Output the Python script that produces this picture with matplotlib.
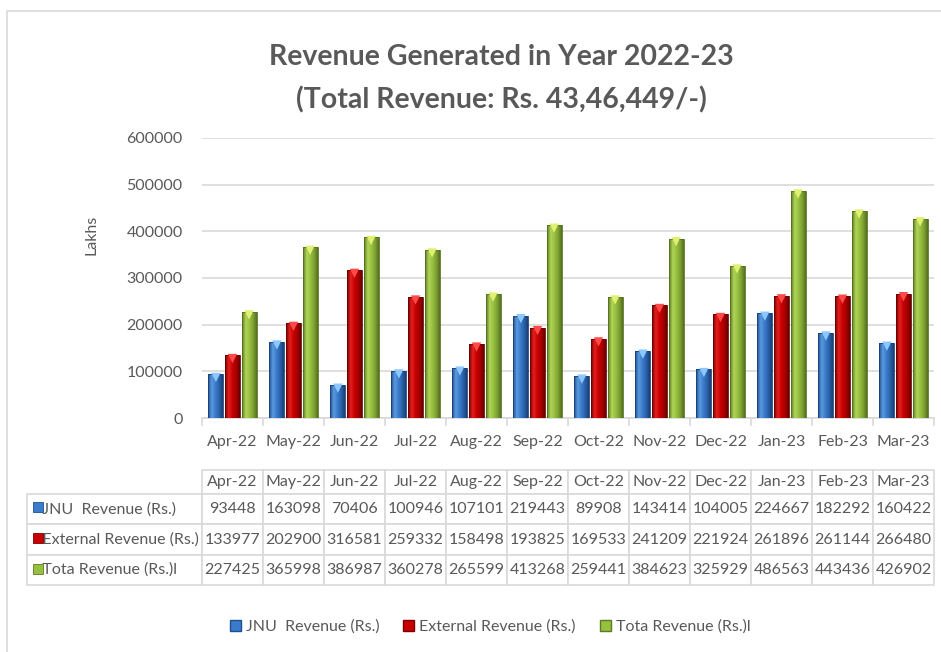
import matplotlib
matplotlib.use("Agg")
import matplotlib.pyplot as plt
import numpy as np
from matplotlib.colors import LinearSegmentedColormap
from matplotlib.patches import Rectangle, Patch

months = ["Apr-22", "May-22", "Jun-22", "Jul-22", "Aug-22", "Sep-22",
          "Oct-22", "Nov-22", "Dec-22", "Jan-23", "Feb-23", "Mar-23"]
jnu_revenue = [93448, 163098, 70406, 100946, 107101, 219443,
               89908, 143414, 104005, 224667, 182292, 160422]
external_revenue = [133977, 202900, 316581, 259332, 158498, 193825,
                    169533, 241209, 221924, 261896, 261144, 266480]
total_revenue = [227425, 365998, 386987, 360278, 265599, 413268,
                 259441, 384623, 325929, 486563, 443436, 426902]
series_names = ["JNU  Revenue (Rs.)", "External Revenue (Rs.)", "Tota Revenue (Rs.)l"]
y_ticks = [0, 100000, 200000, 300000, 400000, 500000, 600000]

# shading across each bar: dark edge, highlight, body, dark edge
shades = [
    ["#1f4f8f", "#5b9be0", "#3b7bcb", "#2a62aa", "#1a3f75"],
    ["#7a0000", "#e32020", "#c80000", "#a80000", "#6a0000"],
    ["#5c7a22", "#b0d458", "#98c040", "#7fa234", "#55701e"],
]
tips = ["#8cc8ff", "#ff4a4a", "#e0f070"]
legend_cols = ["#3b7bcb", "#c80000", "#98c040"]

text_gray = "#595959"
grid_gray = "#d9d9d9"
plt.rcParams['font.family'] = ['Lato', 'DejaVu Sans']

fig = plt.figure(figsize=(9.41, 6.52), dpi=100)
ax = fig.add_axes([202/941, 1-418/652, 732/941, 280/652])

# outer chart frame
fig.patches.append(Rectangle((7/941, -0.2), 1.3, 1.2 - 11/652, transform=fig.transFigure,
                             fill=False, edgecolor=grid_gray, linewidth=1.2))

x = np.arange(len(months))
bar_w = 0.245
step = 0.272
for i, vals in enumerate([jnu_revenue, external_revenue, total_revenue]):
    cmap = LinearSegmentedColormap.from_list("s%d" % i, shades[i])
    grad = np.linspace(0, 1, 64).reshape(1, -1)
    xs = x + (i - 1) * step
    bars = ax.bar(xs, vals, width=bar_w, color=legend_cols[i], edgecolor="none", zorder=2)
    for b in bars:
        im = ax.imshow(grad, cmap=cmap, aspect="auto", zorder=3,
                       extent=[b.get_x(), b.get_x() + b.get_width(), 0, b.get_height()])
        im.set_clip_path(b)
    # thin dark outline on top of the shading
    ax.bar(xs, vals, width=bar_w, fill=False, edgecolor=shades[i][4], linewidth=0.6, zorder=3.5)
    ax.scatter(xs, np.array(vals) - 6500, marker="v", s=45, color=tips[i],
               edgecolor="none", zorder=4)

ax.set_xlim(-0.5, 11.5)
ax.set_ylim(0, 600000)
ax.set_yticks(y_ticks)
ax.set_yticklabels([str(v) for v in y_ticks])
ax.grid(axis="y", color=grid_gray, linewidth=1.2, zorder=0)
ax.set_axisbelow(True)
for s in ["top", "right", "left"]:
    ax.spines[s].set_visible(False)
ax.spines["bottom"].set_color(grid_gray)
ax.spines["bottom"].set_linewidth(1.2)
ax.tick_params(axis="y", length=0, pad=14, labelsize=11.5, labelcolor=text_gray)
ax.set_xticks(x)
ax.set_xticklabels(months)
ax.tick_params(axis="x", which="major", length=0, pad=12, labelsize=11.5, labelcolor=text_gray)
ax.set_xticks(np.arange(-0.5, 12, 1), minor=True)
ax.tick_params(axis="x", which="minor", length=6, color=grid_gray, width=1.2)
ax.set_ylabel("Lakhs", fontsize=11.5, color=text_gray)
ax.yaxis.set_label_coords(-0.142, 0.654)

fig.text(501/941, 1-57/652, "Revenue Generated in Year 2022-23", ha="center", va="center",
         fontsize=20.5, fontweight="bold", color=text_gray)
fig.text(501/941, 1-100/652, "(Total Revenue: Rs. 43,46,449/-)", ha="center", va="center",
         fontsize=20.5, fontweight="bold", color=text_gray)

# data table under the chart
rows = []
for name, vals in zip(series_names, [jnu_revenue, external_revenue, total_revenue]):
    rows.append(["   " + name] + [str(v) for v in vals])
cell_text = [[""] + months] + rows
col_w = [175] + [61] * 12
tbl = ax.table(cellText=cell_text, colWidths=[w / sum(col_w) for w in col_w],
               bbox=[-175/732, (418-585)/280, 907/732, 115/280], cellLoc="center")
tbl.auto_set_font_size(False)
for (r, c), cell in tbl.get_celld().items():
    cell.set_edgecolor(grid_gray)
    cell.set_linewidth(1.2)
    cell.set_height(24 if r == 0 else 30)
    cell.get_text().set_color(text_gray)
    cell.get_text().set_fontsize(11.5)
    if c == 0:
        cell.get_text().set_ha("left")
        cell._loc = "left"
        cell.PAD = 0.02
    if r == 0 and c == 0:
        cell.set_linewidth(0)

for i, yc in enumerate([507, 538, 569]):
    ax.add_patch(Rectangle(((33-202)/732, (418-yc-5)/280), 10/732, 10/280,
                           transform=ax.transAxes, clip_on=False,
                           facecolor=legend_cols[i], edgecolor=shades[i][0], linewidth=0.6))

handles = [Patch(facecolor=legend_cols[i], edgecolor=shades[i][0]) for i in range(3)]
fig.legend(handles, series_names, loc="center", bbox_to_anchor=(490/941, 1-627/652),
           ncol=3, frameon=False, fontsize=11.5, labelcolor=text_gray,
           handlelength=0.7, handleheight=0.7, handletextpad=0.3, columnspacing=1.5)

fig.savefig("out.png", dpi=100)
